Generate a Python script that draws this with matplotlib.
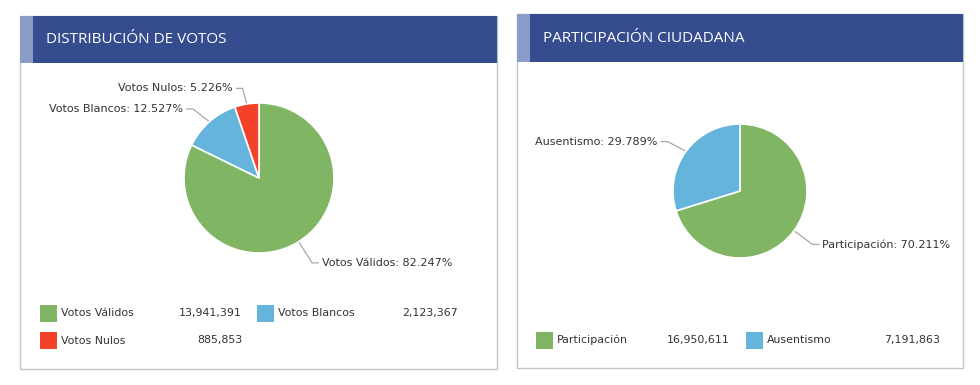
import numpy as np
import matplotlib
matplotlib.use("Agg")
import matplotlib.pyplot as plt
from matplotlib.patches import Rectangle

# --- data ---
votos_labels = ["Votos Válidos", "Votos Blancos", "Votos Nulos"]
votos_values = [13941391, 2123367, 885853]

part_labels = ["Participación", "Ausentismo"]
part_values = [16950611, 7191863]

GREEN = "#80b563"
BLUE = "#65b4dc"
RED = "#f4412a"
votos_colors = [GREEN, BLUE, RED]
part_colors = [GREEN, BLUE]

HEADER = "#354c8f"
ACCENT = "#8c9cc8"
BORDER = "#bcc6ca"
TXT = "#333333"
CONN = "#a8a8a8"

W, H = 980, 385
fig = plt.figure(figsize=(W / 100, H / 100), dpi=100)
ax = fig.add_axes([0, 0, 1, 1])


def Y(py):
    # screen pixel y -> data y
    return H - py


def panel(x0, x1, y0, y1, hy, title):
    ax.add_patch(Rectangle((x0, Y(y1)), x1 - x0, y1 - y0, facecolor="white",
                           edgecolor=BORDER, lw=1.0, zorder=1))
    ax.add_patch(Rectangle((x0, Y(hy)), x1 - x0, hy - y0, facecolor=HEADER,
                           edgecolor="none", zorder=2))
    ax.add_patch(Rectangle((x0, Y(hy)), 13, hy - y0, facecolor=ACCENT,
                           edgecolor="none", zorder=3))
    ax.text(x0 + 26, Y((y0 + hy) / 2), title, color="white", fontsize=11,
            family=["Open Sans", "DejaVu Sans"], ha="left", va="center", zorder=4)


def pie(values, labels, colors, cx, cy, r, dist, nudge):
    total = float(sum(values))
    wedges, _ = ax.pie(values, colors=colors, startangle=90, counterclock=False,
                       center=(cx, Y(cy)), radius=r,
                       wedgeprops=dict(edgecolor="white", linewidth=1.2))
    for w, lab, v in zip(wedges, labels, values):
        w.set_zorder(5)
        mid = np.radians((w.theta1 + w.theta2) / 2)
        ex, ey = cx + r * np.cos(mid), cy - r * np.sin(mid)
        ax_, ay_ = cx + (r + dist) * np.cos(mid), cy - (r + dist) * np.sin(mid)
        ay_ += nudge.get(lab, 0)
        side = 1 if np.cos(mid) >= 0 else -1
        ax.plot([ex, ax_, ax_ + 7 * side], [Y(ey), Y(ay_), Y(ay_)],
                color=CONN, lw=0.9, zorder=4, solid_capstyle="butt")
        ax.text(ax_ + 10 * side, Y(ay_), f"{lab}: {v / total * 100:.3f}%",
                color=TXT, fontsize=8, ha="left" if side > 0 else "right",
                va="center", zorder=6)


def legend(labels, values, colors, cols, rows_y):
    for i, (lab, v, c) in enumerate(zip(labels, values, colors)):
        sx, nx, vx = cols[i % 2]
        py = rows_y[i // 2]
        ax.add_patch(Rectangle((sx, Y(py + 8.5)), 17, 17, facecolor=c,
                               edgecolor="none", zorder=5))
        ax.text(nx, Y(py), lab, color=TXT, fontsize=7.9, ha="left", va="center", zorder=6)
        ax.text(vx, Y(py), f"{v:,}", color=TXT, fontsize=7.9, ha="right", va="center", zorder=6)


panel(20, 497, 16, 369, 63, "DISTRIBUCIÓN DE VOTOS")
panel(517, 963, 14, 368, 62, "PARTICIPACIÓN CIUDADANA")

pie(votos_values, votos_labels, votos_colors, 259, 178, 75, 25,
    {"Votos Nulos": 9, "Votos Blancos": 6})
pie(part_values, part_labels, part_colors, 740, 191, 67, 23,
    {"Ausentismo": 4})

legend(votos_labels, votos_values, votos_colors,
       [(40, 61, 242), (257, 278, 458)], [313, 340.5])
legend(part_labels, part_values, part_colors,
       [(536, 557, 730), (746, 767, 940)], [340])

ax.set_xlim(0, W)
ax.set_ylim(0, H)
ax.set_aspect("auto")
ax.axis("off")

fig.savefig("out.png", dpi=100, facecolor="white")
